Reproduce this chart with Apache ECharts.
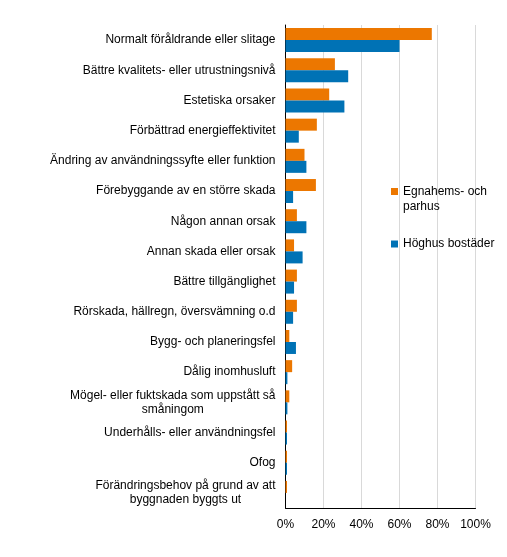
<!DOCTYPE html>
<html>
<head>
<meta charset="utf-8">
<script src="https://cdn.jsdelivr.net/npm/echarts@6/dist/echarts.min.js"></script>
<style>
  html, body { margin: 0; padding: 0; background: #fff; }
  #chart { width: 507px; height: 557px; }
</style>
</head>
<body>
<div id="chart"></div>
<script>
// kategorier (uppifrån och ned)
const categories = [
  'Normalt föråldrande eller slitage',
  'Bättre kvalitets- eller utrustningsnivå',
  'Estetiska orsaker',
  'Förbättrad energieffektivitet',
  'Ändring av användningssyfte eller funktion',
  'Förebyggande av en större skada',
  'Någon annan orsak',
  'Annan skada eller orsak',
  'Bättre tillgänglighet',
  'Rörskada, hällregn, översvämning o.d',
  'Bygg- och planeringsfel',
  'Dålig inomhusluft',
  'Mögel- eller fuktskada som uppstått så\nsmåningom',
  'Underhålls- eller användningsfel',
  'Ofog',
  'Förändringsbehov på grund av att\nbyggnaden byggts ut'
];

const seriesNames = ['Egnahems- och\nparhus', 'Höghus bostäder'];

// andel i procent
const egnahem = [77, 26, 23, 16.5, 10, 16, 6, 4.5, 6, 6, 2, 3.5, 2, 0.8, 0.8, 0.8];
const hoghus = [60, 33, 31, 7, 11, 4, 11, 9, 4.5, 4, 5.5, 1, 1, 0.8, 0.8, 0];

const xTicks = { min: 0, max: 100, interval: 20 };

const myChart = echarts.init(document.getElementById('chart'));

const font = "'Liberation Sans', Arial, sans-serif";

option = {
  animation: false,
  textStyle: { fontFamily: font },
  grid: {
    left: 285.5,
    right: 31.5,
    top: 25,
    bottom: 49,
    containLabel: false
  },
  legend: [
    {
      orient: 'vertical',
      left: 391,
      top: 169,
      padding: 0,
      itemWidth: 7,
      itemHeight: 7,
      icon: 'rect',
      // tom rad överst så att ikonen hamnar vid första textraden
      formatter: function (name) {
        return ' \n' + name;
      },
      textStyle: { fontFamily: font, fontSize: 12, color: '#000', lineHeight: 15 },
      data: [seriesNames[0]]
    },
    {
      orient: 'vertical',
      left: 391,
      top: 238,
      padding: 0,
      itemWidth: 7,
      itemHeight: 7,
      icon: 'rect',
      textStyle: { fontFamily: font, fontSize: 12, color: '#000' },
      data: [seriesNames[1]]
    }
  ],
  xAxis: {
    type: 'value',
    min: xTicks.min,
    max: xTicks.max,
    interval: xTicks.interval,
    axisLine: { show: true, lineStyle: { color: '#000', width: 1 } },
    axisTick: { show: false },
    axisLabel: {
      formatter: '{value}%',
      color: '#000',
      fontSize: 12,
      fontFamily: font,
      margin: 11
    },
    splitLine: { show: true, lineStyle: { color: '#d9d9d9', width: 1 } }
  },
  yAxis: {
    type: 'category',
    inverse: true,
    data: categories,
    axisLine: { show: true, lineStyle: { color: '#000', width: 1 } },
    axisTick: { show: false },
    axisLabel: {
      color: '#000',
      fontSize: 12,
      fontFamily: font,
      margin: 10,
      interval: 0,
      // flerradiga etiketter centreras rad för rad
      formatter: function (value) {
        return value.split('\n').map(l => '{c|' + l + '}').join('\n');
      },
      rich: {
        c: { align: 'center', fontSize: 12, lineHeight: 14, color: '#000', fontFamily: font }
      }
    }
  },
  series: [
    {
      name: seriesNames[0],
      type: 'bar',
      data: egnahem,
      barWidth: 12,
      barGap: '0%',
      itemStyle: { color: '#ec7700' }
    },
    {
      name: seriesNames[1],
      type: 'bar',
      data: hoghus,
      barWidth: 12,
      barGap: '0%',
      itemStyle: { color: '#0072b5' }
    }
  ]
};

myChart.setOption(option);
</script>
</body>
</html>
